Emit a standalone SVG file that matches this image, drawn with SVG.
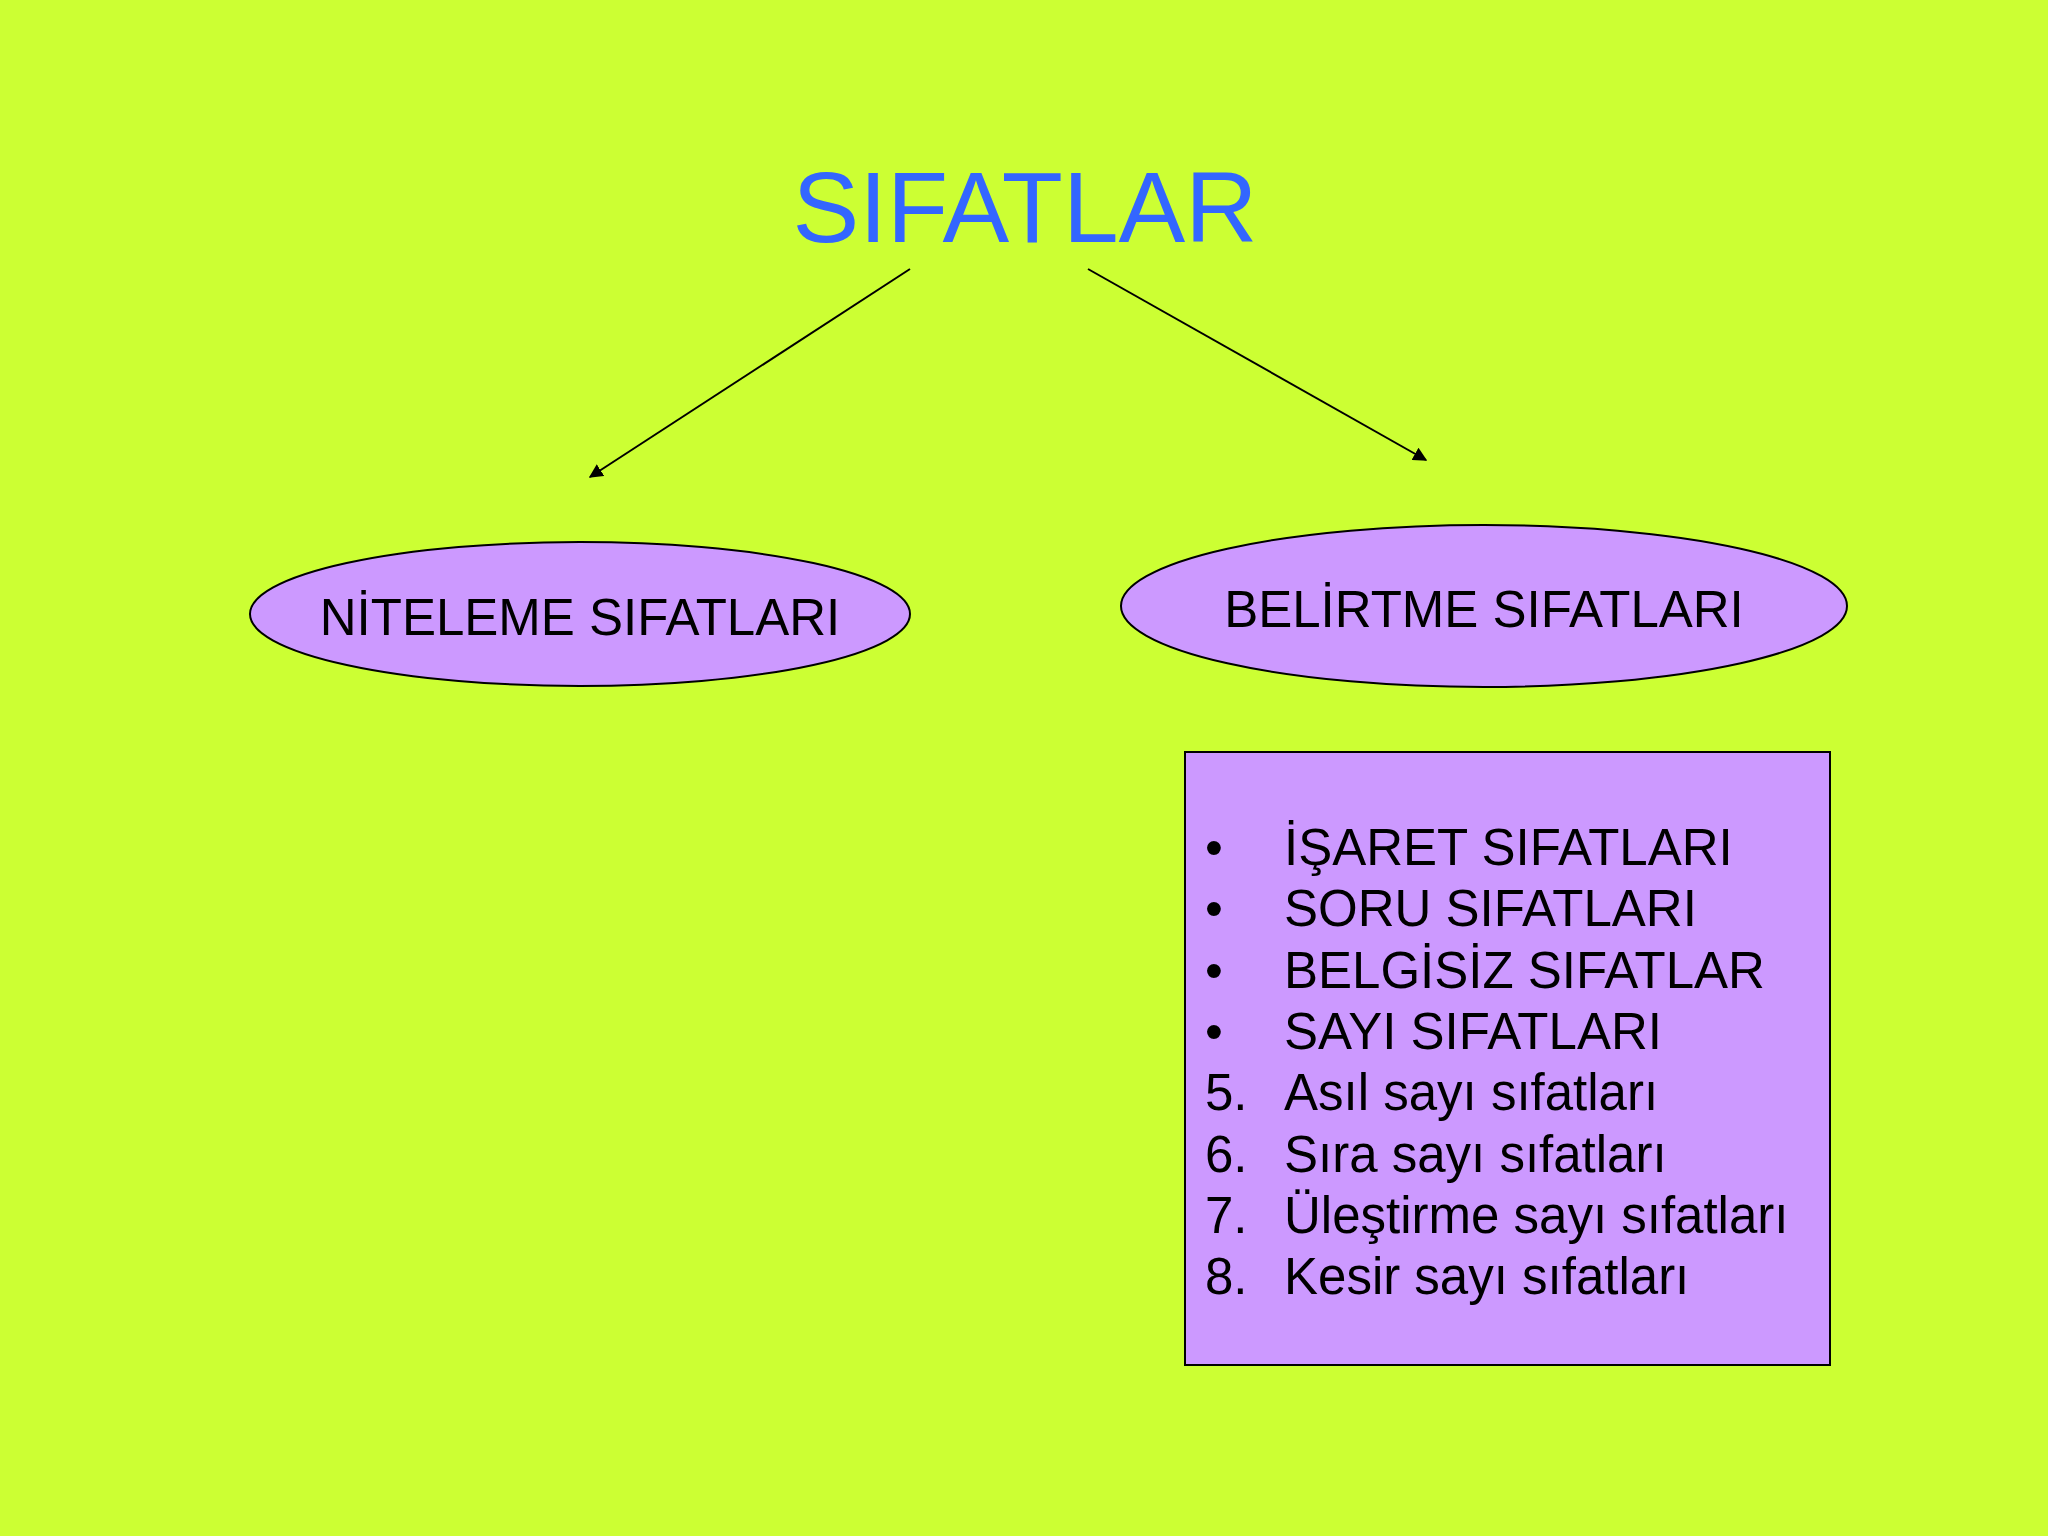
<svg xmlns="http://www.w3.org/2000/svg" width="2048" height="1536" viewBox="0 0 2048 1536">
<defs>
<style>
.t{font-family:"Liberation Sans",Arial,sans-serif;font-size:51px;fill:#000}
.shape{fill:#CC99FF;stroke:#000;stroke-width:2}
</style>
<marker id="ah" viewBox="0 0 10 10" refX="9" refY="5" markerWidth="7" markerHeight="7" orient="auto" markerUnits="strokeWidth"><path d="M0,0L10,5L0,10z" fill="#000"/></marker>
</defs>
<rect width="2048" height="1536" fill="#CCFF33"/>
<g id="title"><text x="1025" y="242" text-anchor="middle" font-family="Liberation Sans,Arial,sans-serif" font-size="100" fill="#3366FF">SIFATLAR</text></g>
<g id="connectors" stroke="#000" stroke-width="2" marker-end="url(#ah)">
<line x1="910" y1="269" x2="590" y2="477"/>
<line x1="1088" y1="269" x2="1426" y2="460"/>
</g>
<g id="niteleme"><ellipse class="shape" cx="580" cy="614" rx="330" ry="72"/><text class="t" x="580" y="635" text-anchor="middle">NİTELEME SIFATLARI</text></g>
<g id="belirtme"><ellipse class="shape" cx="1484" cy="606" rx="363" ry="81"/><text class="t" x="1484" y="627" text-anchor="middle">BELİRTME SIFATLARI</text></g>
<g id="list">
<rect class="shape" x="1185" y="752" width="645" height="613"/>
<g class="t">
<text x="1205" y="865">•</text><text x="1284" y="865">İŞARET SIFATLARI</text>
<text x="1205" y="926">•</text><text x="1284" y="926">SORU SIFATLARI</text>
<text x="1205" y="988">•</text><text x="1284" y="988">BELGİSİZ SIFATLAR</text>
<text x="1205" y="1049">•</text><text x="1284" y="1049">SAYI SIFATLARI</text>
<text x="1205" y="1110">5.</text><text x="1284" y="1110">Asıl sayı sıfatları</text>
<text x="1205" y="1172">6.</text><text x="1284" y="1172">Sıra sayı sıfatları</text>
<text x="1205" y="1233">7.</text><text x="1284" y="1233">Üleştirme sayı sıfatları</text>
<text x="1205" y="1294">8.</text><text x="1284" y="1294">Kesir sayı sıfatları</text>
</g>
</g>
</svg>
